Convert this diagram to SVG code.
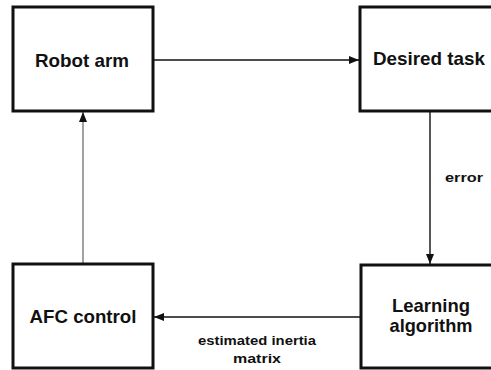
<svg xmlns="http://www.w3.org/2000/svg" width="491" height="370" viewBox="0 0 491 370">
  <style>
    .box { fill: #ffffff; stroke: #111111; stroke-width: 3; }
    .title { font-family: "Liberation Sans", Arial, sans-serif; font-weight: bold; font-size: 18.5px; fill: #111111; text-anchor: middle; }
    .label { font-family: "Liberation Sans", Arial, sans-serif; font-weight: bold; font-size: 13.5px; fill: #111111; text-anchor: middle; }
    .link { fill: none; stroke: #111111; stroke-width: 1.4; marker-end: url(#head); }
    .thin { stroke: #555555; stroke-width: 1.1; }
  </style>
  <defs>
    <marker id="head" viewBox="0 0 10 8" refX="10" refY="4" markerWidth="11" markerHeight="8" markerUnits="userSpaceOnUse" orient="auto">
      <path d="M0,0 L10,4 L0,8 Z" fill="#111111"/>
    </marker>
  </defs>
  <rect width="491" height="370" fill="#ffffff"/>

  <g id="connectors">
    <line class="link" x1="153" y1="60" x2="359" y2="60"/>
    <line class="link" x1="430" y1="111" x2="430" y2="264"/>
    <line class="link" x1="361" y1="317" x2="154" y2="317"/>
    <line class="link thin" x1="83" y1="264" x2="83" y2="112"/>
    <text class="label" x="464" y="182" textLength="38" lengthAdjust="spacingAndGlyphs">error</text>
    <text class="label" x="257" y="345" textLength="118" lengthAdjust="spacingAndGlyphs">estimated inertia</text>
    <text class="label" x="257" y="363" textLength="48" lengthAdjust="spacingAndGlyphs">matrix</text>
  </g>

  <g id="robot-arm">
    <rect class="box" x="13" y="7" width="140" height="104"/>
    <text class="title" x="82" y="67" textLength="94" lengthAdjust="spacingAndGlyphs">Robot arm</text>
  </g>

  <g id="desired-task">
    <rect class="box" x="360" y="7" width="150" height="104"/>
    <text class="title" x="429" y="65" textLength="112" lengthAdjust="spacingAndGlyphs">Desired task</text>
  </g>

  <g id="afc-control">
    <rect class="box" x="13" y="264" width="140" height="104"/>
    <text class="title" x="83" y="323" textLength="107" lengthAdjust="spacingAndGlyphs">AFC control</text>
  </g>

  <g id="learning-algorithm">
    <rect class="box" x="361" y="265" width="150" height="103"/>
    <text class="title" x="431" y="312" textLength="78" lengthAdjust="spacingAndGlyphs">Learning</text>
    <text class="title" x="431" y="332" textLength="83" lengthAdjust="spacingAndGlyphs">algorithm</text>
  </g>
</svg>
